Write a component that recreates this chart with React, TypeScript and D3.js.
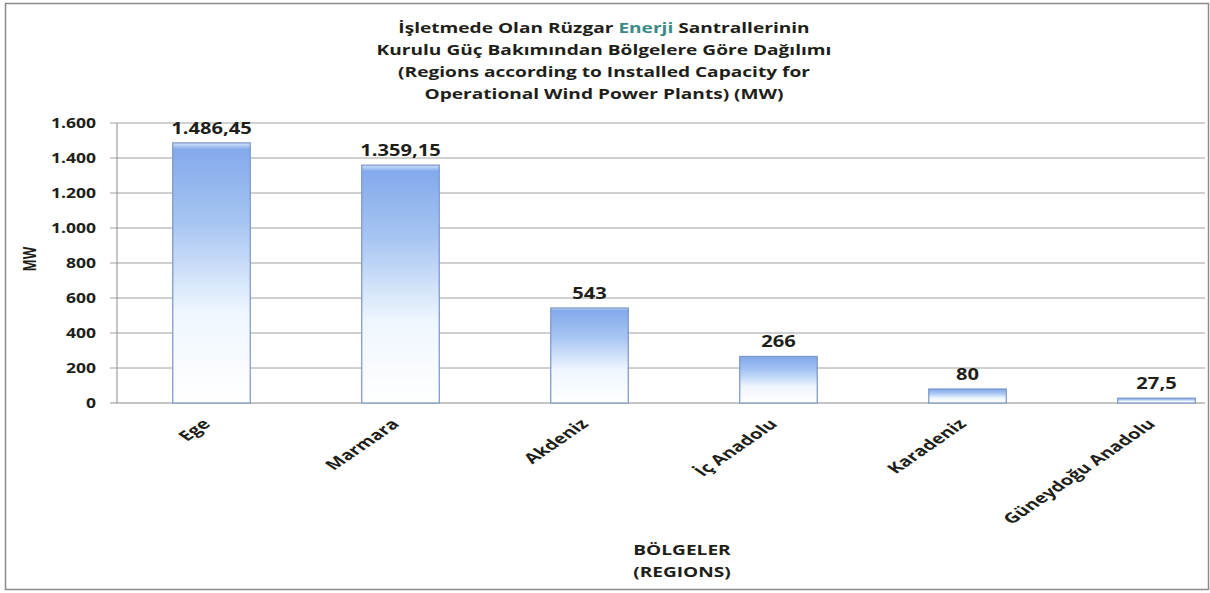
import { useEffect, useRef } from 'react';
import * as d3 from 'd3';

const regions = ['Ege', 'Marmara', 'Akdeniz', 'İç Anadolu', 'Karadeniz', 'Güneydoğu Anadolu'];
const capacity = [1486.45, 1359.15, 543, 266, 80, 27.5];
const valueLabels = ['1.486,45', '1.359,15', '543', '266', '80', '27,5'];
const yTicks = [0, 200, 400, 600, 800, 1000, 1200, 1400, 1600];
const titleLines = [
  'Kurulu Güç Bakımından Bölgelere Göre Dağılımı',
  '(Regions according  to Installed  Capacity for',
  'Operational  Wind Power Plants) (MW)',
];

const FONT = '"Open Sans", "DejaVu Sans", sans-serif';
const INK = '#1f1f1a';
// the source picture is stretched sideways, so text is widened to match
const SX = 1.3;
const SX_CAT = 1.45;

export default function App() {
  const ref = useRef<SVGSVGElement>(null);

  useEffect(() => {
    if (!ref.current) return;
    const svg = d3.select(ref.current);
    svg.selectAll('*').remove();

    const width = 1210;
    const height = 593;
    const plot = { left: 117, top: 123, bottom: 403, right: 1251, visibleRight: 1205 };

    svg.attr('width', width).attr('height', height);

    // background + frame
    svg.append('rect').attr('width', width).attr('height', height).attr('fill', '#fff');
    svg
      .append('rect')
      .attr('x', 5.5)
      .attr('y', 3.5)
      .attr('width', 1203)
      .attr('height', 586)
      .attr('fill', 'none')
      .attr('stroke', '#8a8a8a')
      .attr('stroke-width', 1.5);

    const defs = svg.append('defs');
    const grad = defs
      .append('linearGradient')
      .attr('id', 'barGrad')
      .attr('x1', 0)
      .attr('y1', 0)
      .attr('x2', 0)
      .attr('y2', 1);
    grad.append('stop').attr('offset', 0).attr('stop-color', '#d2e4fa');
    grad.append('stop').attr('offset', 0.025).attr('stop-color', '#84aaec');
    grad.append('stop').attr('offset', 0.3).attr('stop-color', '#a6c4f2');
    grad.append('stop').attr('offset', 0.65).attr('stop-color', '#eef6fe');
    grad.append('stop').attr('offset', 1).attr('stop-color', '#ffffff');

    const x = d3
      .scaleBand<string>()
      .domain(regions)
      .range([plot.left, plot.right])
      .paddingInner(0.59)
      .paddingOuter(0.295);

    const y = d3.scaleLinear().domain([0, 1600]).range([plot.bottom, plot.top]);

    // grid
    svg
      .append('g')
      .selectAll('line')
      .data(yTicks)
      .join('line')
      .attr('x1', plot.left - 7)
      .attr('x2', plot.visibleRight)
      .attr('y1', (d) => y(d))
      .attr('y2', (d) => y(d))
      .attr('stroke', (d) => (d === 0 ? '#8c8c8c' : '#a0a0a0'))
      .attr('stroke-width', 1);

    // y axis line
    svg
      .append('line')
      .attr('x1', plot.left)
      .attr('x2', plot.left)
      .attr('y1', plot.top)
      .attr('y2', plot.bottom)
      .attr('stroke', '#8c8c8c');

    // y tick labels
    svg
      .append('g')
      .selectAll('text')
      .data(yTicks)
      .join('text')
      .attr('transform', (d) => `translate(96,${y(d)}) scale(${SX},1)`)
      .attr('dy', '0.35em')
      .attr('text-anchor', 'end')
      .attr('font-family', FONT)
      .attr('font-weight', 700)
      .attr('font-size', 13.5)
      .attr('fill', INK)
      .text((d) => d3.format(',')(d).replace(/,/g, '.'));

    // bars
    svg
      .append('g')
      .selectAll('rect')
      .data(capacity)
      .join('rect')
      .attr('x', (_, i) => x(regions[i])!)
      .attr('y', (d) => y(d))
      .attr('width', x.bandwidth())
      .attr('height', (d) => plot.bottom - y(d))
      .attr('fill', 'url(#barGrad)')
      .attr('stroke', '#7a94c8')
      .attr('stroke-width', 1.2);

    // value labels
    svg
      .append('g')
      .selectAll('text')
      .data(capacity)
      .join('text')
      .attr(
        'transform',
        (d, i) => `translate(${x(regions[i])! + x.bandwidth() / 2},${y(d) - 9}) scale(${SX},1)`
      )
      .attr('text-anchor', 'middle')
      .attr('font-family', FONT)
      .attr('font-weight', 700)
      .attr('font-size', 15.5)
      .attr('fill', INK)
      .text((_, i) => valueLabels[i]);

    // category labels
    svg
      .append('g')
      .selectAll('text')
      .data(regions)
      .join('text')
      .attr(
        'transform',
        (d) =>
          `translate(${x(d)! + x.bandwidth() / 2},${plot.bottom + 22}) scale(${SX_CAT},1) rotate(-45)`
      )
      .attr('text-anchor', 'end')
      .attr('font-family', FONT)
      .attr('font-weight', 700)
      .attr('font-size', 14)
      .attr('fill', INK)
      .text((d) => d);

    // y axis title
    svg
      .append('text')
      .attr('transform', `translate(36,259) scale(${SX},1) rotate(-90)`)
      .attr('text-anchor', 'middle')
      .attr('font-family', FONT)
      .attr('font-weight', 700)
      .attr('font-size', 13)
      .attr('fill', INK)
      .text('MW');

    // x axis title
    const xt = svg
      .append('text')
      .attr('transform', `translate(682,0) scale(${SX},1)`)
      .attr('text-anchor', 'middle')
      .attr('font-family', FONT)
      .attr('font-weight', 700)
      .attr('font-size', 14.7)
      .attr('fill', INK);
    xt.append('tspan').attr('x', 0).attr('y', 555).text('BÖLGELER');
    xt.append('tspan').attr('x', 0).attr('y', 577).text('(REGIONS)');

    // title
    const title = svg
      .append('text')
      .attr('transform', `translate(604,0) scale(${SX},1)`)
      .attr('text-anchor', 'middle')
      .attr('font-family', FONT)
      .attr('font-weight', 700)
      .attr('font-size', 14.7)
      .attr('fill', INK);
    const l1 = title.append('tspan').attr('x', 0).attr('y', 33);
    l1.append('tspan').text('İşletmede Olan Rüzgar ');
    l1.append('tspan').attr('fill', '#3a8a86').text('Enerji');
    l1.append('tspan').text('  Santrallerinin');
    titleLines.forEach((t, i) => {
      title
        .append('tspan')
        .attr('x', 0)
        .attr('y', 55 + i * 22)
        .text(t);
    });
  }, []);

  return (
    <div style={{ position: 'absolute', left: 0, top: 0 }}>
      <svg ref={ref} />
    </div>
  );
}
